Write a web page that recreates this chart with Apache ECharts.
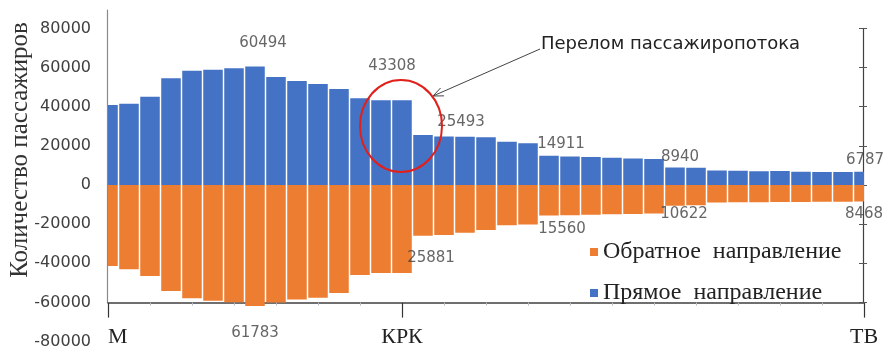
<!DOCTYPE html>
<html><head><meta charset="utf-8">
<script src="https://cdn.jsdelivr.net/npm/echarts@6/dist/echarts.min.js"></script>
<style>html,body{margin:0;padding:0;background:#fff}#c{width:889px;height:352px}</style>
</head><body><div id="c"></div>
<script>
// ---- data ----
const stations = ['М','','','','','','','','','','','','','','КРК','','','','','','','','','','','','','','','','','','','','','','ТВ'];
const forward = [40900,41500,45100,54500,58400,58900,59600,60494,55200,53100,51600,49000,44300,43308,43308,25493,24800,24700,24400,22100,21300,14911,14600,14300,13900,13600,13300,8940,8800,7400,7300,7000,7100,6800,6700,6700,6787];
const backward = [41400,43100,46500,54200,57900,59100,59900,61783,60000,58500,57600,55200,46000,45000,45000,25881,25500,24400,23000,20600,20200,15560,15400,15200,15000,14800,14600,10622,10300,8900,8800,8800,8700,8700,8600,8500,8468];
const forwardLabelIdx = [7,14,15,21,27,36];
const backwardLabelIdx = [7,15,21,27,36];
const seriesNames = ['Обратное  направление','Прямое  направление'];
const yTitle = 'Количество пассажиров';
const noteText = 'Перелом пассажиропотока';

// ---- styles ----
const fwdOff = {7:[8,-11],14:[-10,-22],15:[38,0],21:[12,1],27:[5,2],36:[1,1]};
const bwdOff = {7:[0,15],15:[8,10],21:[13,1],27:[9,-4],36:[0,0]};
const lblStyle = {fontFamily:'DejaVu Sans',fontSize:15,color:'#404040'};
const BLUE = '#4472C4', ORANGE = '#ED7D31';

const fwdBars = forward.map((v,i)=>[i,v]);
const bwdBars = backward.map((v,i)=>[i,-v]);
const fwdLabels = forwardLabelIdx.map(i=>({value:[i,forward[i]],
  label:Object.assign({show:true,position:'top',distance:5,offset:fwdOff[i],formatter:String(forward[i])},lblStyle)}));
const bwdLabels = backwardLabelIdx.map(i=>({value:[i,-backward[i]],
  label:Object.assign({show:true,position:'bottom',distance:5,offset:bwdOff[i],formatter:String(backward[i])},lblStyle)}));

const catData = stations.map((s,i)=> i===0 ? {value:s,textStyle:{align:'left'}} : s);

function barRender(params, api){
  const x = api.value(0), v = api.value(1);
  const p0 = api.coord([x,0]), p1 = api.coord([x,v]);
  const w = api.size([1,0])[0]*0.93;
  return {type:'rect',
    shape:{x:p0[0]-w/2,y:Math.min(p0[1],p1[1]),width:w,height:Math.abs(p1[1]-p0[1])},
    style:{fill:api.visual('color')}};
}

const chart = echarts.init(document.getElementById('c'));
const ax0=540, ay0=49, ax1=433, ay1=96;
const ang = Math.atan2(ay0-ay1, ax0-ax1);
const ah = 11, aw = 0.4;
chart.setOption({
  animation:false,
  backgroundColor:'#fff',
  grid:[
    {left:108,right:25,top:28.4,bottom:10.4},
    {left:107,right:25,top:10,bottom:49.6},
    {left:108,right:26,top:28.4,bottom:49.6}
  ],
  xAxis:[
    {gridIndex:0,type:'category',data:catData,boundaryGap:false,position:'bottom',offset:-39,
     axisLine:{onZero:false,lineStyle:{color:'#404040',width:1.5}},
     axisTick:{show:true,length:3,lineStyle:{color:'#b8bcc8'}},
     axisLabel:{show:false},splitLine:{show:false}},
    {gridIndex:0,type:'category',data:catData,boundaryGap:false,position:'bottom',offset:-39,
     axisLine:{show:false,onZero:false},
     axisTick:{show:true,length:15,interval:(i,v)=>v!=='',lineStyle:{color:'#333',width:1.2}},
     axisLabel:{show:true,interval:(i,v)=>v!=='',fontFamily:'Liberation Serif',fontSize:22,color:'#222',margin:24},
     splitLine:{show:false}},
    {gridIndex:1,type:'value',min:0,max:1,show:false},
    {gridIndex:2,type:'value',min:0,max:1,show:false}
  ],
  yAxis:[
    {gridIndex:0,type:'value',min:-80000,max:80000,interval:20000,
     axisLine:{show:false},axisTick:{show:false},splitLine:{show:false},
     axisLabel:{fontFamily:'DejaVu Sans',fontSize:16,color:'#404040',margin:17,formatter:v=>String(v)}},
    {gridIndex:1,type:'value',min:0,max:1,
     axisLine:{show:true,onZero:false,lineStyle:{color:'#8a8a8a',width:1.2}},
     axisTick:{show:false},axisLabel:{show:false},splitLine:{show:false}},
    {gridIndex:2,type:'value',position:'right',min:-60000,max:80000,interval:20000,
     axisLine:{show:true,onZero:false,lineStyle:{color:'#404040',width:1.2}},
     axisTick:{show:true,length:4,lineStyle:{color:'#555'}},axisLabel:{show:false},splitLine:{show:false}},
    {gridIndex:2,type:'value',position:'right',min:-60000,max:80000,interval:20000,
     axisLine:{show:false,onZero:false},
     axisTick:{show:true,inside:true,length:4,lineStyle:{color:'#555'}},axisLabel:{show:false},splitLine:{show:false}}
  ],
  legend:{orient:'vertical',left:585,top:234,itemWidth:8,itemHeight:8,icon:'rect',itemGap:15,
    textStyle:{fontFamily:'Liberation Serif',fontSize:24,color:'#222',lineHeight:26},
    data:seriesNames},
  series:[
    {name:seriesNames[0],type:'custom',xAxisIndex:0,yAxisIndex:0,clip:true,data:bwdBars,
     renderItem:barRender,itemStyle:{color:ORANGE},encode:{x:0,y:1}},
    {name:seriesNames[1],type:'custom',xAxisIndex:0,yAxisIndex:0,clip:true,data:fwdBars,
     renderItem:barRender,itemStyle:{color:BLUE},encode:{x:0,y:1}},
    {name:'lblB',type:'scatter',xAxisIndex:0,yAxisIndex:0,clip:false,symbolSize:0,z:5,data:bwdLabels,silent:true},
    {name:'lblF',type:'scatter',xAxisIndex:0,yAxisIndex:0,clip:false,symbolSize:0,z:5,data:fwdLabels,silent:true}
  ],
  graphic:[
    {type:'text',x:20,y:150,rotation:Math.PI/2,style:{text:yTitle,font:'25px "Liberation Serif"',fill:'#333',textAlign:'center',textVerticalAlign:'middle'}},
    {type:'text',x:541,y:44,z:20,style:{text:noteText,font:'18px "DejaVu Sans"',fill:'#222',textAlign:'left',textVerticalAlign:'middle'}},
    {type:'line',z:20,shape:{x1:ax0,y1:ay0,x2:ax1,y2:ay1},style:{stroke:'#444',lineWidth:1}},
    {type:'polyline',z:20,shape:{points:[
      [ax1+ah*Math.cos(ang+aw),ay1+ah*Math.sin(ang+aw)],[ax1,ay1],[ax1+ah*Math.cos(ang-aw),ay1+ah*Math.sin(ang-aw)]]},
     style:{stroke:'#444',lineWidth:1,fill:null}},
    {type:'ellipse',z:20,shape:{cx:401,cy:126,rx:41,ry:46},style:{stroke:'#e0201b',lineWidth:2,fill:null}}
  ]
});
</script></body></html>
